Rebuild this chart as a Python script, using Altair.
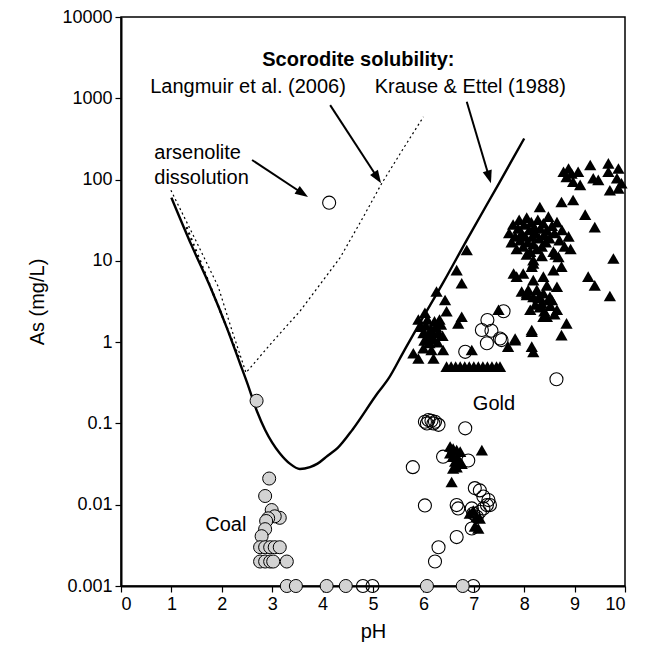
import math
import altair as alt
import pandas as pd

# ---------------- data ----------------
# Scorodite solubility, Krause & Ettel (1988) - solid curve
krause_ph = [1.0, 1.4, 1.77, 2.1, 2.36, 2.5, 2.7, 2.86, 3.0, 3.15, 3.35, 3.55, 3.75, 3.9,
             4.1, 4.3, 4.6, 5.1, 5.3, 5.6, 5.9, 6.4, 6.86, 7.5, 8.0]
krause_as = [60, 15.5, 4.8, 1.5, 0.55, 0.32, 0.14, 0.083, 0.058, 0.043, 0.032, 0.0275, 0.029, 0.032,
             0.04, 0.05, 0.085, 0.24, 0.35, 0.75, 1.6, 5.5, 18, 90, 320]

# Scorodite solubility, Langmuir et al. (2006) - dotted curve
langmuir_ph = [0.99, 1.5, 1.93, 2.2, 2.48, 3.0, 3.55, 4.35, 4.8, 5.17, 5.6, 6.0]
langmuir_as = [74, 17, 4.8, 1.4, 0.42, 1.0, 2.4, 11, 34, 89, 240, 590]

# arsenolite dissolution - heavy dotted segment
arsen_ph = [1.30, 2.36]
arsen_as = [26, 0.6]

# Coal samples (grey circles)
coal_ph = [2.69, 2.94, 2.86, 2.99, 3.15, 3.05, 2.92, 2.88, 2.86, 2.79,
           2.76, 2.86, 2.96, 3.05, 3.15,
           2.76, 2.86, 2.96, 3.02, 3.29,
           3.29, 3.47, 4.08, 4.46, 6.07, 6.78]
coal_as = [0.19, 0.021, 0.0128, 0.0086, 0.0069, 0.0072, 0.0068, 0.0063, 0.0050, 0.0041,
           0.003, 0.003, 0.003, 0.003, 0.003,
           0.002, 0.002, 0.002, 0.002, 0.002,
           0.001, 0.001, 0.001, 0.001, 0.001, 0.001]

# Gold samples, open circles
gold_ph = [4.13,
           6.03, 6.07, 6.10, 6.16, 6.20, 6.23, 6.30,
           6.83, 6.39, 6.89, 5.79,
           7.02, 7.12, 7.19, 7.29, 7.32,
           6.03, 6.66, 6.69,
           6.96, 6.99, 7.06, 7.12, 7.19, 7.26,
           6.96, 6.66, 6.30, 6.23,
           8.64,
           7.59, 7.27, 7.16, 7.35, 7.52, 7.55, 7.26, 6.83,
           4.80, 4.99, 6.99]
gold_as = [52,
           0.105, 0.100, 0.110, 0.108, 0.100, 0.105, 0.096,
           0.087, 0.039, 0.035, 0.029,
           0.016, 0.015, 0.0126, 0.0114, 0.0099,
           0.0098, 0.0099, 0.0090,
           0.0090, 0.0078, 0.0071, 0.0082, 0.0090, 0.0099,
           0.0051, 0.0040, 0.0030, 0.0020,
           0.35,
           2.4, 1.87, 1.41, 1.38, 1.11, 1.06, 0.97, 0.76,
           0.001, 0.001, 0.001]

# Gold samples, filled triangles
tri_ph = [6.86, 6.66, 6.76, 6.26, 6.43, 6.46, 6.76, 6.69, 6.03, 5.90,
          5.95, 6.00, 6.05, 6.10, 6.15, 6.20, 6.25, 6.30, 6.35, 6.02, 6.12, 6.28, 6.38,
          6.22, 6.08, 6.32, 6.18,
          5.80, 5.90, 6.20, 6.16, 6.39, 6.00,
          6.46, 6.55, 6.64, 6.73, 6.82, 6.91, 7.00, 7.09, 7.18, 7.27, 7.36, 7.45, 7.52,
          7.49, 6.96, 7.68, 7.82, 8.15, 8.15, 8.18,
          8.18, 8.15, 8.68, 7.79, 7.85, 7.98, 8.18, 8.18, 8.38, 8.58, 8.74, 7.95, 8.05,
          8.25, 8.38, 8.45, 8.51, 8.31, 8.08, 8.18, 8.28, 8.48, 8.55, 8.65, 8.31, 8.45,
          8.65, 8.84, 8.74, 8.15, 7.82, 8.40, 8.35, 8.22, 8.52, 8.60, 8.12, 8.38, 8.05,
          7.70, 7.75, 7.78, 7.82, 7.85, 7.88, 7.90, 7.92, 7.95, 7.98, 8.00, 8.02, 8.05,
          8.07, 8.10, 8.12, 8.14, 8.16, 8.18, 8.20, 8.22, 8.25, 8.27, 8.30, 8.32, 8.35,
          8.38, 8.40, 8.43, 8.45, 8.48, 8.50, 8.55, 8.58, 8.60, 8.65, 8.70, 8.75, 8.80,
          8.88, 8.92, 8.05, 8.35, 8.62,
          8.31, 8.74, 8.97, 9.21, 9.40, 9.77, 9.27, 9.40, 9.70,
          8.78, 8.88, 8.94, 8.84, 8.97, 9.07, 9.11, 9.31, 9.37, 9.47, 9.67, 9.67, 9.87,
          9.84, 9.70, 9.87, 9.93,
          6.53, 6.59, 6.66, 6.73, 6.53, 6.59, 6.69, 6.63, 6.59, 6.66, 6.76, 7.16, 6.56,
          7.06, 7.12, 7.02, 7.09, 6.92, 6.99]
tri_as = [13.6, 7.7, 5.3, 4.2, 3.3, 2.4, 2.05, 1.7, 2.3, 1.9,
          1.55, 1.3, 1.6, 1.2, 1.45, 1.1, 1.55, 1.3, 1.65, 1.05, 0.98, 1.0, 1.2,
          1.8, 1.9, 1.9, 1.3,
          0.73, 0.63, 0.63, 0.80, 0.80, 0.84,
          0.5, 0.5, 0.5, 0.5, 0.5, 0.5, 0.5, 0.5, 0.5, 0.5, 0.5, 0.5, 0.5,
          2.5, 0.8, 0.88, 1.06, 1.41, 0.88, 0.76,
          10.2, 8.5, 11.2, 7.0, 6.4, 7.0, 9.3, 5.8, 6.4, 7.7, 8.5, 4.2, 3.8,
          4.4, 4.0, 5.0, 3.6, 3.6, 4.4, 3.6, 3.5, 3.3, 3.3, 4.8, 2.7, 2.05,
          2.5, 1.7, 1.22, 1.34, 1.11, 2.4, 3.0, 2.9, 2.8, 2.2, 2.5, 2.05, 4.0,
          22, 17, 28, 20, 14, 25, 32, 18, 22, 15, 28, 20, 34,
          17, 24, 13, 30, 20, 16, 26, 22, 14, 32, 19, 25, 15,
          29, 21, 17, 24, 35, 19, 27, 13, 22, 30, 18, 24, 15,
          20, 14, 12, 11.5, 12,
          46, 53, 56, 37, 26, 10.7, 6.4, 5.0, 3.7,
          125, 137, 119, 108, 94, 125, 86, 151, 104, 99, 158, 125, 137,
          104, 74, 78, 90,
          0.052, 0.049, 0.047, 0.045, 0.043, 0.039, 0.037, 0.034, 0.028, 0.029, 0.032, 0.047, 0.019,
          0.0071, 0.0068, 0.0054, 0.0051, 0.0078, 0.0085]

# annotation arrows: tail (x1, y1) -> head (x2, y2), in data units
arrow_x1 = [2.60, 4.15, 6.86]
arrow_y1 = [174, 824, 906]
arrow_x2 = [3.71, 5.16, 7.34]
arrow_y2 = [61, 90, 90]

# annotation texts
label_text = ["Langmuir et al. (2006)", "Krause & Ettel (1988)", "Gold"]
label_x = [2.52, 6.93, 7.40]
label_y = [1380, 1380, 0.173]
coal_label = ["Coal"]
coal_label_x = [2.08]
coal_label_y = [0.0056]
title_text = ["Scorodite solubility:"]
title_x = [4.71]
title_y = [2950]
left_text = ["arsenolite", "dissolution"]
left_x = [0.66, 0.66]
left_y = [214, 104]

x_ticks = list(range(0, 11))
y_ticks = [0.001, 0.01, 0.1, 1, 10, 100, 1000, 10000]

# ---------------- chart ----------------
W, H = 504, 569
FONT = "Liberation Sans"
XMIN, XMAX = 0, 10
LMIN, LMAX = -3, 4

xs = alt.Scale(domain=[XMIN, XMAX], nice=False, zero=False)
ys = alt.Scale(type="log", domain=[0.001, 10000], nice=False)
x_axis = alt.Axis(values=x_ticks, format="d", title="pH", grid=False)
y_axis = alt.Axis(values=y_ticks, format="~g", title="As (mg/L)", grid=False)


def X(field):
    return alt.X(field, type="quantitative", scale=xs, axis=x_axis)


def Y(field):
    return alt.Y(field, type="quantitative", scale=ys, axis=y_axis)


def px(v):
    return (v - XMIN) / (XMAX - XMIN) * W


def py(v):
    return (LMAX - math.log10(v)) / (LMAX - LMIN) * H


def from_px(x, y):
    return XMIN + x / W * (XMAX - XMIN), 10 ** (LMAX - y / H * (LMAX - LMIN))


# arrows: shaft shortened under the head, head rotated along the shaft
shaft_rows, head_rows = [], []
HEAD = 13.0
for a, b, c, d in zip(arrow_x1, arrow_y1, arrow_x2, arrow_y2):
    x1, y1, x2, y2 = px(a), py(b), px(c), py(d)
    dx, dy = x2 - x1, y2 - y1
    L = math.hypot(dx, dy)
    ex, ey = x2 - dx / L * (HEAD * 0.8), y2 - dy / L * (HEAD * 0.8)
    e_ph, e_as = from_px(ex, ey)
    shaft_rows.append({"pH": a, "As": b, "pH2": e_ph, "As2": e_as})
    ang = math.degrees(math.atan2(dx, -dy)) % 360
    head_rows.append({"pH": c, "As": d, "ang": ang})

krause = pd.DataFrame({"pH": krause_ph, "As": krause_as})
langmuir = pd.DataFrame({"pH": langmuir_ph, "As": langmuir_as})
arsen = pd.DataFrame({"pH": arsen_ph, "As": arsen_as})
coal = pd.DataFrame({"pH": coal_ph, "As": coal_as})
gold = pd.DataFrame({"pH": gold_ph, "As": gold_as})
tri = pd.DataFrame({"pH": tri_ph, "As": tri_as})
shafts = pd.DataFrame(shaft_rows)
heads = pd.DataFrame(head_rows)
labels = pd.DataFrame({"pH": label_x, "As": label_y, "t": label_text})
coal_lab = pd.DataFrame({"pH": coal_label_x, "As": coal_label_y, "t": coal_label})
title_df = pd.DataFrame({"pH": title_x, "As": title_y, "t": title_text})
left_df = pd.DataFrame({"pH": left_x, "As": left_y, "t": left_text})

krause_line = alt.Chart(krause).mark_line(
    color="black", strokeWidth=2.4, interpolate="monotone"
).encode(x=X("pH"), y=Y("As"))

langmuir_line = alt.Chart(langmuir).mark_line(
    color="black", strokeWidth=1.2, strokeDash=[2, 3]
).encode(x=X("pH"), y=Y("As"))

arsen_line = alt.Chart(arsen).mark_line(
    color="black", strokeWidth=2.2, strokeDash=[2, 4]
).encode(x=X("pH"), y=Y("As"))

gold_pts = alt.Chart(gold).mark_point(
    shape="circle", filled=False, stroke="black", strokeWidth=1.1, size=170, opacity=1
).encode(x=X("pH"), y=Y("As"))

tri_pts = alt.Chart(tri).mark_point(
    shape="triangle-up", filled=True, color="black", size=150, opacity=1
).encode(x=X("pH"), y=Y("As"))

coal_pts = alt.Chart(coal).mark_point(
    shape="circle", filled=True, fill="#d3d3d3", stroke="black", strokeWidth=1,
    size=170, opacity=1, fillOpacity=1, strokeOpacity=1
).encode(x=X("pH"), y=Y("As"))

shaft_mark = alt.Chart(shafts).mark_rule(color="black", strokeWidth=2).encode(
    x=X("pH"), y=Y("As"), x2="pH2:Q", y2="As2:Q"
)

head_mark = alt.Chart(heads).mark_point(
    shape="M0,0L-0.36,1L0.36,1Z", filled=True, color="black", size=HEAD * HEAD * 4,
    opacity=1
).encode(x=X("pH"), y=Y("As"), angle=alt.Angle("ang:Q", scale=None))

text_kw = dict(font=FONT, fontSize=20, color="black", baseline="middle")
label_mark = alt.Chart(labels).mark_text(align="center", **text_kw).encode(
    x=X("pH"), y=Y("As"), text="t:N")
coal_mark = alt.Chart(coal_lab).mark_text(align="center", **text_kw).encode(
    x=X("pH"), y=Y("As"), text="t:N")
title_mark = alt.Chart(title_df).mark_text(align="center", fontWeight="bold", **text_kw).encode(
    x=X("pH"), y=Y("As"), text="t:N")
left_mark = alt.Chart(left_df).mark_text(align="left", **text_kw).encode(
    x=X("pH"), y=Y("As"), text="t:N")

chart = alt.layer(
    krause_line, langmuir_line, arsen_line,
    gold_pts, tri_pts, coal_pts,
    shaft_mark, head_mark,
    label_mark, coal_mark, title_mark, left_mark,
).properties(
    width=W, height=H,
    autosize=alt.AutoSizeParams(type="none"),
    padding={"left": 113, "top": 9, "right": 15, "bottom": 58},
    background="white",
).configure_view(
    stroke="black", strokeWidth=1.5
).configure_axis(
    domainColor="black", domainWidth=2, tickColor="black", tickWidth=1.2, tickSize=6,
    labelColor="black", labelFont=FONT, labelFontSize=18, labelPadding=3,
    titleColor="black", titleFont=FONT, titleFontSize=20, titleFontWeight="normal",
    grid=False,
).configure_axisX(titlePadding=8).configure_axisY(titlePadding=14)

chart.save("out.html", embed_options={"renderer": "svg", "actions": False})
